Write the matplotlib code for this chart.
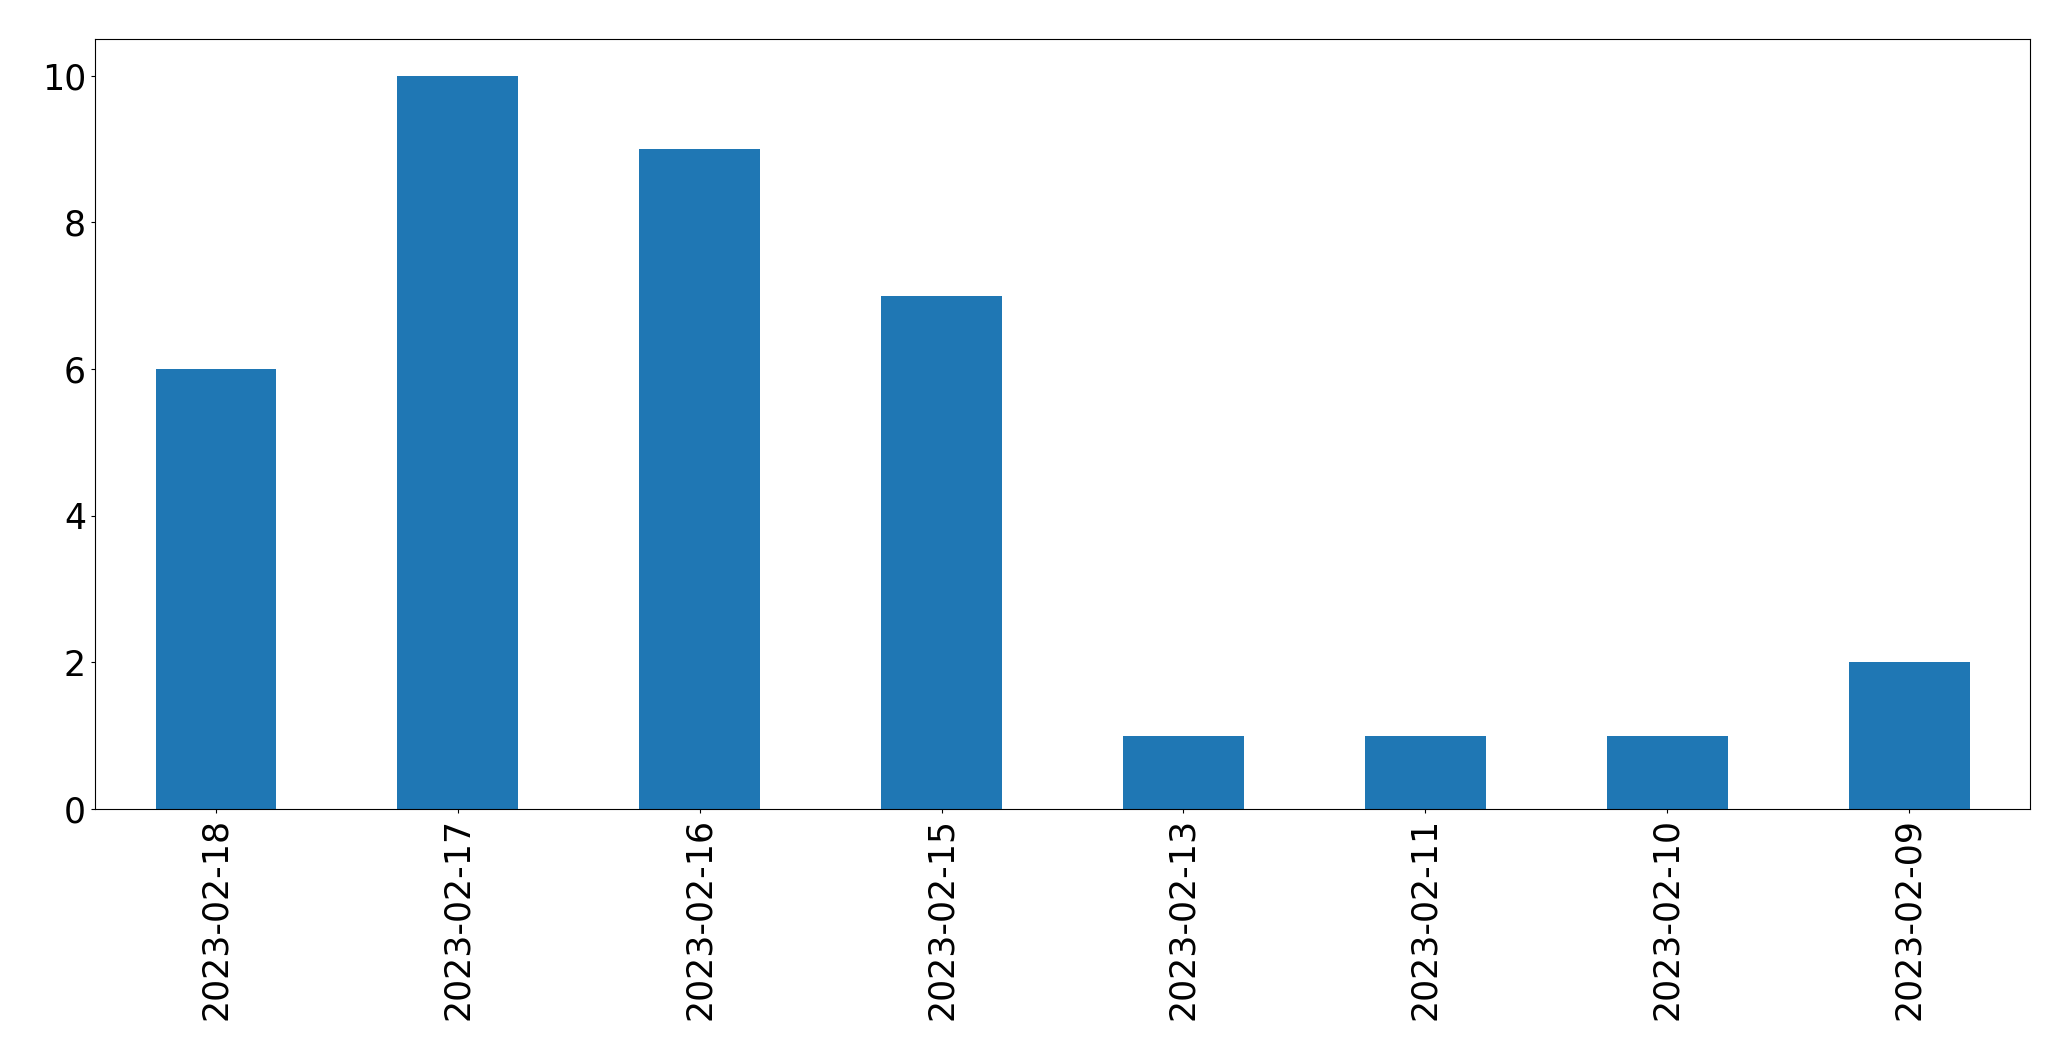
import pandas as pd
import matplotlib
matplotlib.use("Agg")
import matplotlib.pyplot as plt

# === DATOS ===
dates = ["2023-02-18", "2023-02-17", "2023-02-16", "2023-02-15",
         "2023-02-13", "2023-02-11", "2023-02-10", "2023-02-09"]
counts = [6, 10, 9, 7, 1, 1, 1, 2]

serie = pd.Series(counts, index=dates)

# === GRAFICA ===
fig = plt.figure(figsize=(20.71, 10.61), dpi=100)
ax = fig.add_axes([0.0459, 0.2375, 0.9343, 0.7257])
serie.plot(kind="bar", ax=ax, color="#1f77b4")
ax.tick_params(axis="both", labelsize=25, length=3)
fig.savefig("out.png", dpi=100)
